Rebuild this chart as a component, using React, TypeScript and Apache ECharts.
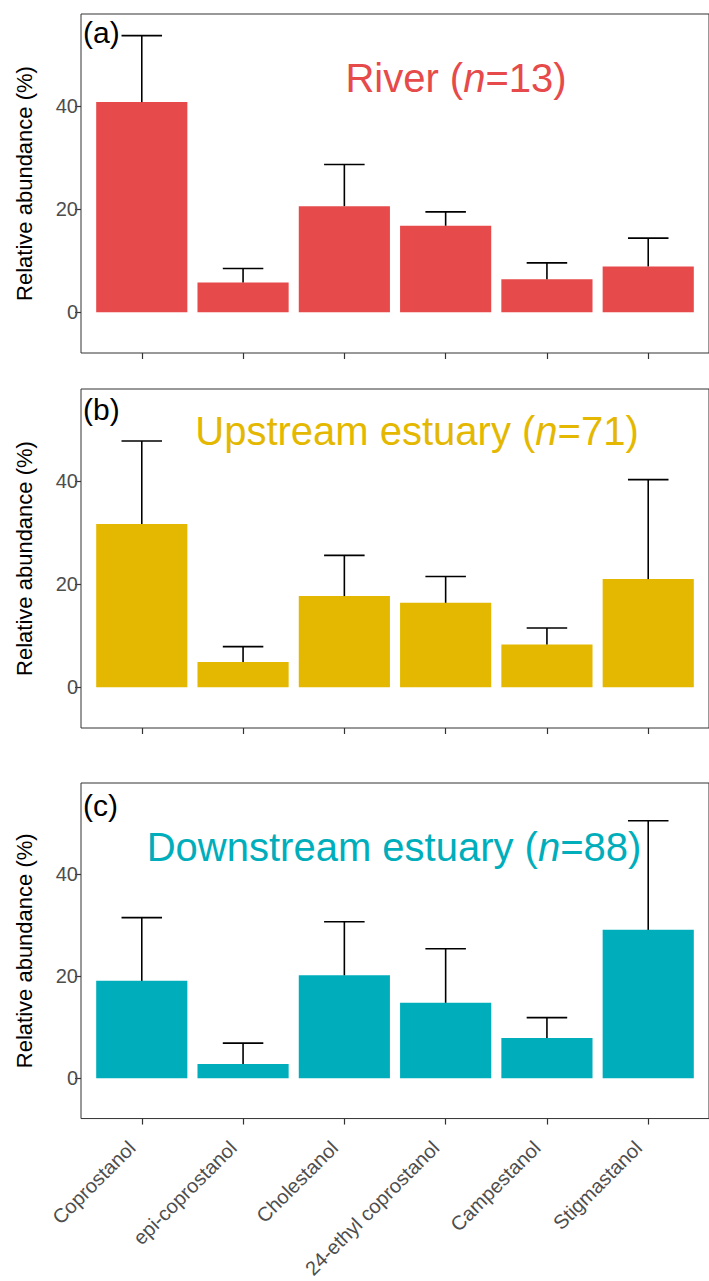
import React, { useEffect, useRef } from "react";
import * as echarts from "echarts";

const categories = [
  "Coprostanol",
  "epi-coprostanol",
  "Cholestanol",
  "24-ethyl coprostanol",
  "Campestanol",
  "Stigmastanol",
];

const riverMean = [40.8, 5.8, 20.6, 16.8, 6.4, 8.9];
const riverSd = [12.9, 2.7, 8.1, 2.7, 3.2, 5.5];
const upstreamMean = [31.7, 4.9, 17.7, 16.4, 8.3, 21.0];
const upstreamSd = [16.1, 3.0, 7.9, 5.1, 3.2, 19.3];
const downstreamMean = [19.1, 2.8, 20.2, 14.8, 7.9, 29.1];
const downstreamSd = [12.4, 4.1, 10.5, 10.6, 4.0, 21.4];

const yTicks = [0, 20, 40];
const xTicks = [0, 1, 2, 3, 4, 5];

const panelTags = ["(a)", "(b)", "(c)"];
const panelNames = ["River", "Upstream estuary", "Downstream estuary"];
const panelN = [13, 71, 88];
const colors = ["#E64A4A", "#E4B800", "#00AEBB"];

const FONT = "'Liberation Sans', Arial, Helvetica, sans-serif";

export default function App() {
  const ref = useRef<HTMLDivElement>(null);
  useEffect(() => {
    if (!ref.current) return;
    const chart = echarts.init(ref.current, null, { renderer: "svg" });
    const means = [riverMean, upstreamMean, downstreamMean];
    const sds = [riverSd, upstreamSd, downstreamSd];
    const gridTops = [14, 389, 783];
    const gridH = 339;

    const grids = gridTops.map((t) => ({
      left: 81,
      right: -10,
      top: t,
      height: gridH,
      show: true,
      borderColor: "#333333",
      borderWidth: 1,
      backgroundColor: "transparent",
    }));

    const xAxes = gridTops.map((_, k) => ({
      type: "value",
      gridIndex: k,
      position: "bottom",
      min: -0.6,
      max: 5.6,
      axisLine: { show: false, onZero: false },
      splitLine: { show: false },
      axisTick: {
        show: true,
        customValues: xTicks,
        length: 6,
        lineStyle: { color: "#333333", width: 1.2 },
      },
      axisLabel: {
        show: k === 2,
        customValues: xTicks,
        rotate: 45,
        margin: 16,
        padding: [0, 14, 0, 0],
        color: "#4D4D4D",
        fontSize: 20,
        fontFamily: FONT,
        formatter: (v: number) => categories[Math.round(v)] ?? "",
      },
    }));

    const yAxes = gridTops.map((_, k) => ({
      type: "value",
      gridIndex: k,
      position: "left",
      min: -7.9,
      max: 57.9,
      name: "Relative abundance (%)",
      nameLocation: "middle",
      nameGap: 46,
      nameTextStyle: { color: "#000", fontSize: 22, fontFamily: FONT },
      axisLine: { show: false, onZero: false },
      splitLine: { show: false },
      axisTick: {
        show: true,
        customValues: yTicks,
        length: 6,
        lineStyle: { color: "#333333", width: 1.2 },
      },
      axisLabel: {
        customValues: yTicks,
        margin: 3,
        color: "#4D4D4D",
        fontSize: 20,
        fontFamily: FONT,
      },
    }));

    const series: any[] = [];
    for (let k = 0; k < 3; k++) {
      const color = colors[k];
      series.push({
        type: "custom",
        xAxisIndex: k,
        yAxisIndex: k,
        data: means[k].map((m, i) => [i, m]),
        encode: { x: 0, y: 1 },
        renderItem: (params: any, api: any) => {
          const i = api.value(0);
          const v = api.value(1);
          const p1 = api.coord([i - 0.45, v]);
          const p2 = api.coord([i + 0.45, 0]);
          return {
            type: "rect",
            shape: { x: p1[0], y: p1[1], width: p2[0] - p1[0], height: p2[1] - p1[1] },
            style: { fill: color },
          };
        },
      });
      series.push({
        type: "custom",
        xAxisIndex: k,
        yAxisIndex: k,
        data: means[k].map((m, i) => [i, m, m + sds[k][i]]),
        encode: { x: 0, y: [1, 2] },
        renderItem: (params: any, api: any) => {
          const i = api.value(0);
          const m = api.value(1);
          const top = api.value(2);
          const a = api.coord([i, m]);
          const b = api.coord([i, top]);
          const c1 = api.coord([i - 0.2, top]);
          const c2 = api.coord([i + 0.2, top]);
          const st = { stroke: "#000", lineWidth: 1.6 };
          return {
            type: "group",
            children: [
              { type: "line", shape: { x1: a[0], y1: a[1], x2: b[0], y2: b[1] }, style: st },
              { type: "line", shape: { x1: c1[0], y1: c1[1], x2: c2[0], y2: c2[1] }, style: st },
            ],
          };
        },
      });
    }

    const titlePos = [
      { x: 456, y: 78 },
      { x: 417, y: 431 },
      { x: 394, y: 847 },
    ];
    const tagY = [32, 409, 805];

    const graphics: any[] = [];
    for (let k = 0; k < 3; k++) {
      graphics.push({
        type: "text",
        x: 83,
        y: tagY[k],
        style: {
          text: panelTags[k],
          fill: "#000",
          font: `30px ${FONT}`,
          textAlign: "left",
          textVerticalAlign: "middle",
        },
      });
      graphics.push({
        type: "text",
        x: titlePos[k].x,
        y: titlePos[k].y,
        style: {
          text: `{a|${panelNames[k]} (}{b|n}{a|=${panelN[k]})}`,
          textAlign: "center",
          textVerticalAlign: "middle",
          rich: {
            a: { fill: colors[k], fontSize: 40, fontFamily: FONT },
            b: { fill: colors[k], fontSize: 40, fontFamily: FONT, fontStyle: "italic" },
          },
        },
      });
    }

    chart.setOption({
      animation: false,
      backgroundColor: "#ffffff",
      grid: grids,
      xAxis: xAxes,
      yAxis: yAxes,
      series,
      graphic: graphics,
    });
    return () => chart.dispose();
  }, []);
  return (
    <div
      ref={ref}
      style={{ position: "absolute", left: 0, top: 0, width: 709, height: 1281 }}
    />
  );
}
